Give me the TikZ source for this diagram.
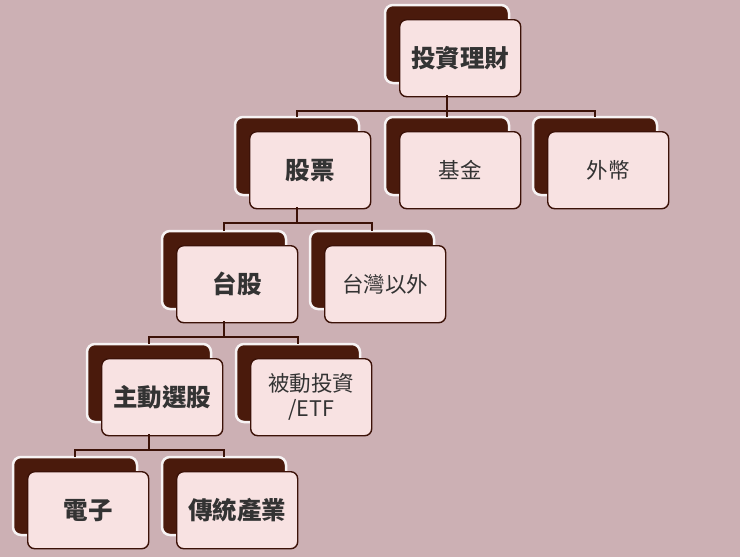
\documentclass[tikz,border=0pt]{standalone}
\usepackage{fontspec}
\newfontfamily\cjk{Noto Sans CJK TC}
\definecolor{bg}{RGB}{204,176,180}
\definecolor{backc}{RGB}{74,26,12}
\definecolor{frontc}{RGB}{248,226,226}
\definecolor{edge}{RGB}{60,18,8}
\begin{document}
\begin{tikzpicture}[x=1pt,y=-1pt,
  backbox/.style={fill=backc,draw=white!85!bg,line width=2.5pt,rounded corners=8pt},
  frontbox/.style={fill=frontc,draw=edge,line width=1.4pt,rounded corners=7pt},
  lbl/.style={font=\cjk\fontsize{21.5}{25}\selectfont,text=black!80,align=center},
  lblb/.style={lbl,font=\cjk\bfseries\fontsize{24.5}{28}\selectfont},
  conn/.style={draw=edge,line width=1.3pt}]
\fill[bg] (0,0) rectangle (740,557);
\useasboundingbox (0,0) rectangle (740,557);
\newcommand\bx[5]{%
  \draw[backbox] (#2,#3) rectangle ++(124,78);
  \node[frontbox,minimum width=121pt,minimum height=77pt,anchor=north west] (#1) at (#2+14,#3+14) {};
  \coordinate (#1t) at (#2+62,#3);
  \coordinate (#1b) at (#2+62,#3+90);
  \node[#5] (#1l) at (#1.center) {#4};}
\bx{a}{385}{5}{投資理財}{lblb}
\bx{b}{235}{117}{股票}{lblb}
\bx{c}{385}{117}{基金}{lbl}
\bx{d}{533}{117}{外幣}{lbl}
\bx{e}{162}{231}{台股}{lblb}
\bx{f}{310}{231}{台灣以外}{lbl}
\bx{g}{87}{344}{主動選股}{lblb}
\bx{h}{236}{344}{被動投資\\/ETF}{lbl}
\bx{i}{13}{457}{電子}{lblb}
\bx{j}{162}{457}{傳統產業}{lblb}
\draw[conn] (ab) -- ++(0,16) coordinate (a1);
\draw[conn] (bt) |- (a1) -| (dt); \draw[conn] (a1) -- (ct);
\draw[conn] (bb) -- ++(0,16) coordinate (b1);
\draw[conn] (et) |- (b1) -| (ft);
\draw[conn] (eb) -- ++(0,16) coordinate (e1);
\draw[conn] (gt) |- (e1) -| (ht);
\draw[conn] (gb) -- ++(0,16) coordinate (g1);
\draw[conn] (it) |- (g1) -| (jt);
\end{tikzpicture}
\end{document}
